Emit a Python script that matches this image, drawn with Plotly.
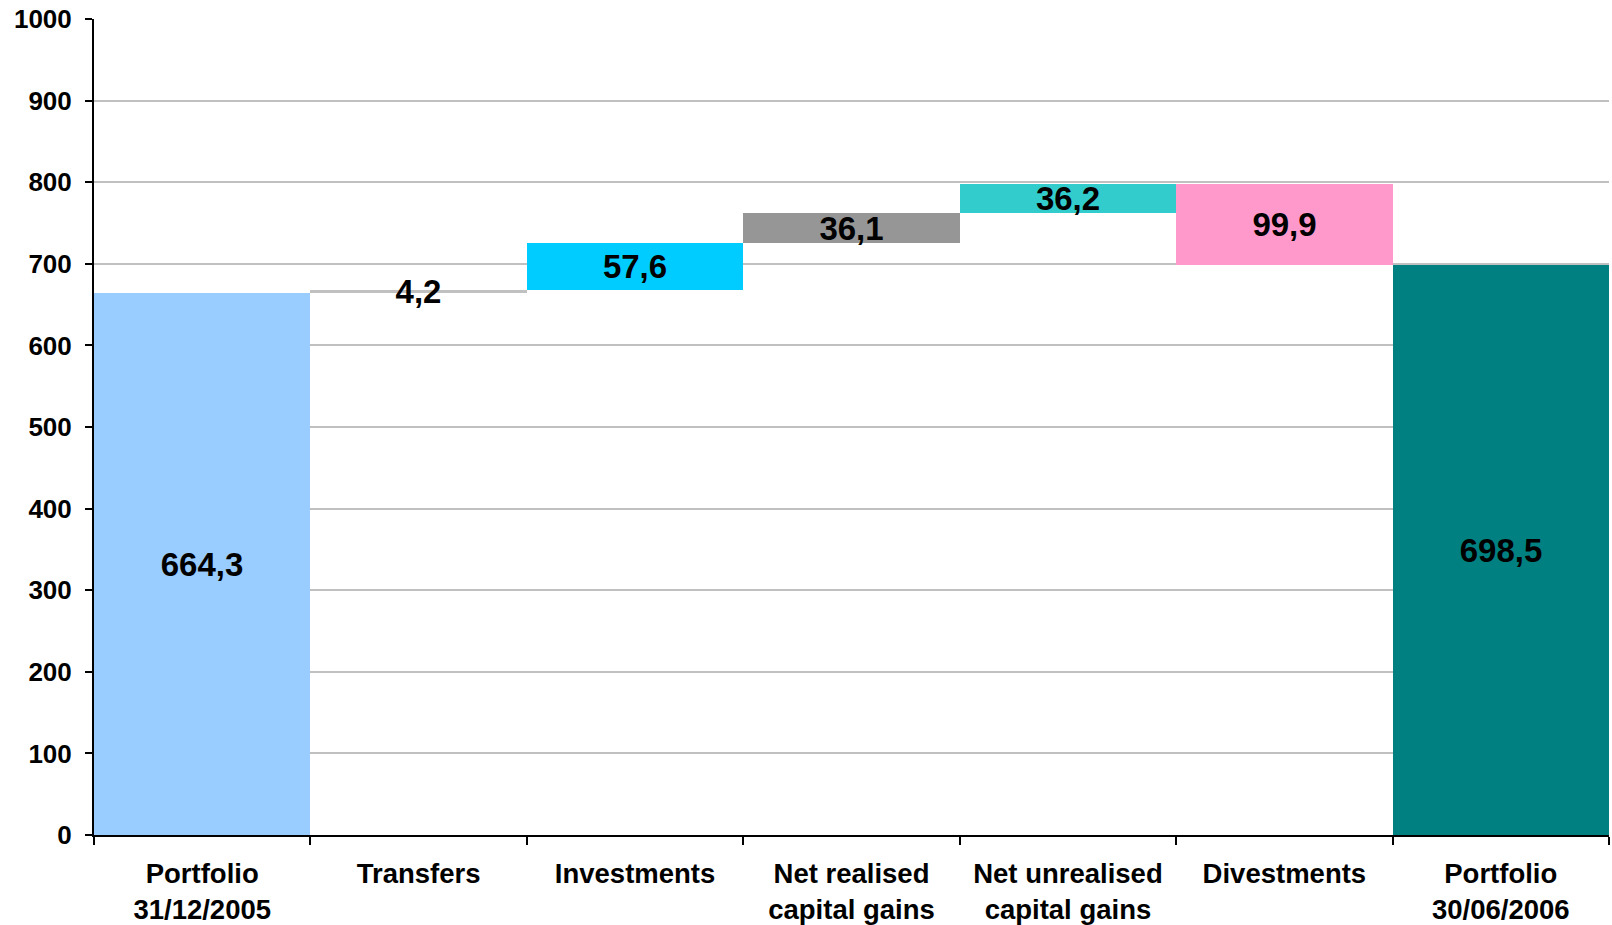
import plotly.graph_objects as go

categories = ["Portfolio<br>31/12/2005", "Transfers", "Investments", "Net realised<br>capital gains",
              "Net unrealised<br>capital gains", "Divestments", "Portfolio<br>30/06/2006"]
# signed changes; first and last are totals
values = [664.3, 4.2, 57.6, 36.1, 36.2, -99.9, 698.5]
kinds = ["total", "delta", "delta", "delta", "delta", "delta", "total"]
colors = ["#99CCFF", "#C0C0C0", "#00CCFF", "#969696", "#33CCCC", "#FF99CC", "#008080"]

bases, heights = [], []
running = 0.0
for v, k in zip(values, kinds):
    if k == "total":
        bases.append(0.0)
        heights.append(v)
        running = v
    else:
        if v >= 0:
            bases.append(running)
            heights.append(v)
        else:
            bases.append(running + v)
            heights.append(-v)
        running += v

labels = [f"{abs(v):.1f}".replace(".", ",") for v in values]

FONT = "Liberation Sans, Arial, sans-serif"

fig = go.Figure()
fig.add_trace(go.Bar(x=categories, y=heights, base=bases, marker=dict(color=colors, line=dict(width=0)),
                     text=labels, textposition="inside", insidetextanchor="middle",
                     constraintext="none", textangle=0, cliponaxis=False,
                     textfont=dict(family=FONT, size=33, color="black", weight="bold"),
                     hoverinfo="skip", showlegend=False))

fig.update_layout(
    width=1612, height=925,
    margin=dict(l=94, r=3, t=19, b=90),
    paper_bgcolor="white", plot_bgcolor="white",
    bargap=0,
    font=dict(family=FONT, size=26, color="black"),
    xaxis=dict(type="category", range=[-0.5, 6.5], tickson="boundaries", ticks="outside", ticklen=8,
               tickwidth=2, tickcolor="black", showline=True, linecolor="black", linewidth=2,
               showgrid=False, tickfont=dict(family=FONT, size=27.5, color="black", weight="bold"),
               ticklabelstandoff=13, automargin=False, fixedrange=True),
    yaxis=dict(range=[0, 1000], dtick=100, tick0=0, ticks="outside", ticklen=7, tickwidth=2,
               tickcolor="black", showline=True, linecolor="black", linewidth=2,
               showgrid=True, gridcolor="#C0C0C0", gridwidth=2, zeroline=False,
               tickfont=dict(family=FONT, size=26, color="black", weight="bold"),
               ticklabelstandoff=8, automargin=False),
)

fig.write_html("out.html", config={"displayModeBar": False},
               post_script="document.body.style.margin='0';document.body.style.overflow='hidden';")
